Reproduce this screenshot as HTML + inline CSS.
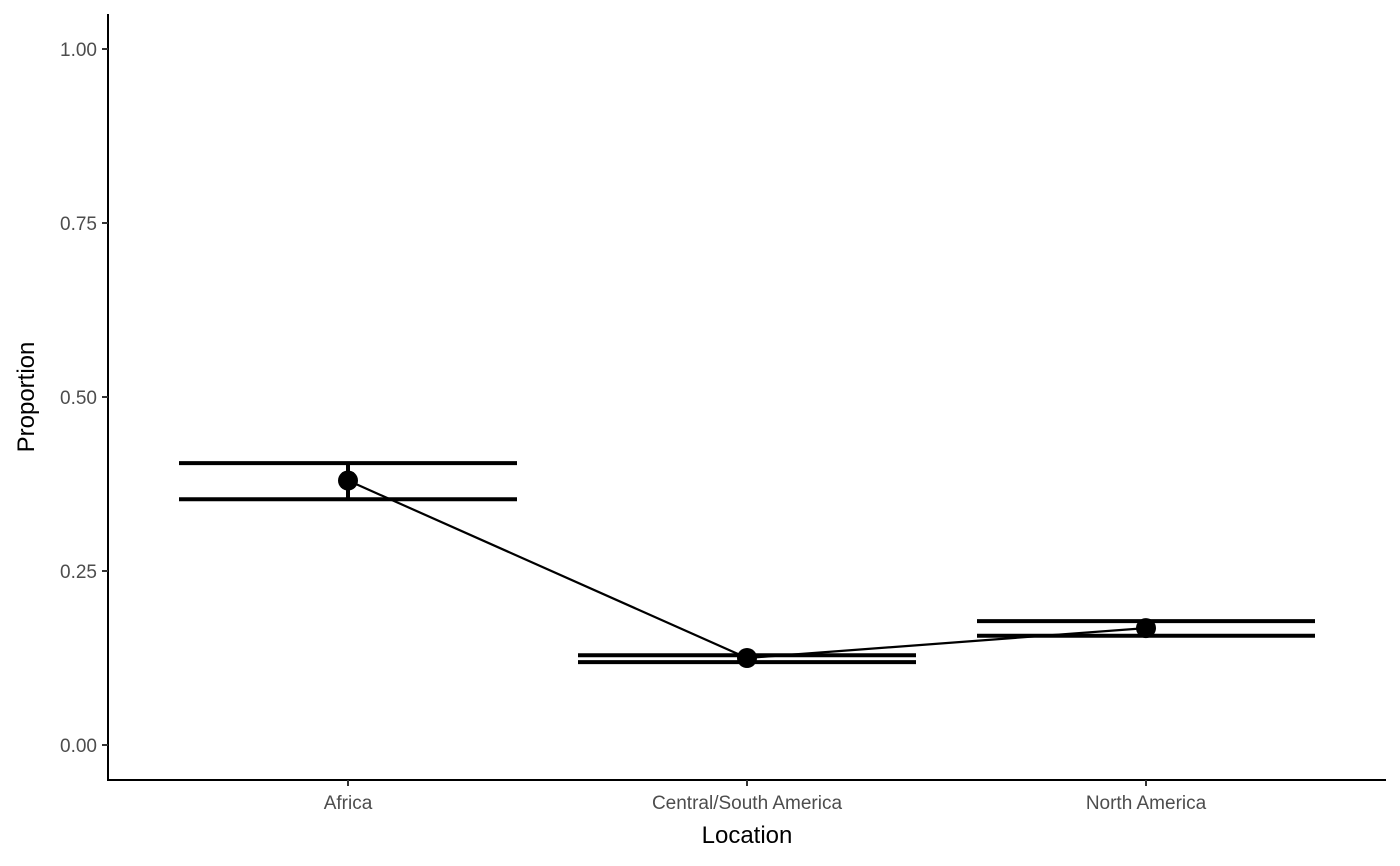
<!DOCTYPE html>
<html><head><meta charset="utf-8"><style>
html,body{margin:0;padding:0;background:#fff;}
svg{display:block;font-family:"Liberation Sans",Arial,sans-serif;}
</style></head><body>
<svg id="chart" width="1400" height="866">
<g id="axes"></g>
<g id="marks"></g>
<text x="747" y="843" text-anchor="middle" font-size="24" fill="#000">Location</text>
<text transform="translate(34,397) rotate(-90)" text-anchor="middle" font-size="24" fill="#000">Proportion</text>
</svg>
<script>
const categories = ["Africa", "Central/South America", "North America"];
const proportions = [0.38, 0.125, 0.168];
const upperCI = [0.405, 0.129, 0.178];
const lowerCI = [0.353, 0.119, 0.157];
const yTicks = [0, 0.25, 0.5, 0.75, 1];
const yTickLabels = ["0.00", "0.25", "0.50", "0.75", "1.00"];

const NS = "http://www.w3.org/2000/svg";
const y = v => 745 - v * 696;
const x = i => 348 + i * 399;
const halfW = 169;
function mk(tag, attrs, parent) {
  const e = document.createElementNS(NS, tag);
  for (const k in attrs) e.setAttribute(k, attrs[k]);
  parent.appendChild(e);
  return e;
}
const axes = document.getElementById('axes');
const marks = document.getElementById('marks');
let l = mk('line', {x1:108, y1:14, x2:108, y2:781, stroke:'#000', 'stroke-width':2}, axes);


l = mk('line', {x1:107, y1:780, x2:1386, y2:780, stroke:'#000', 'stroke-width':2}, axes);


yTicks.forEach((v, i) => {
  const t = mk('line', {x1:102, y1:y(v), x2:108, y2:y(v), stroke:'#333', 'stroke-width':2}, axes);
  
  
  const tx = mk('text', {x:97, y:y(v)+7, 'text-anchor':'end', 'font-size':19, fill:'#4d4d4d'}, axes);
  tx.textContent = yTickLabels[i];
  
  
});
categories.forEach((c, i) => {
  const t = mk('line', {x1:x(i), y1:780, x2:x(i), y2:786, stroke:'#333', 'stroke-width':2}, axes);
  
  
  const tx = mk('text', {x:x(i), y:809, 'text-anchor':'middle', 'font-size':19, fill:'#4d4d4d'}, axes);
  tx.textContent = c;
  
  
});
const pts = proportions.map((p, i) => x(i) + ',' + y(p)).join(' ');
const pl = mk('polyline', {points:pts, fill:'none', stroke:'#000', 'stroke-width':2.2}, marks);


categories.forEach((c, i) => {
  const g = mk('g', {}, marks);
  
  
  mk('line', {x1:x(i)-halfW, x2:x(i)+halfW, y1:y(upperCI[i]), y2:y(upperCI[i]), stroke:'#000', 'stroke-width':4}, g);
  mk('line', {x1:x(i)-halfW, x2:x(i)+halfW, y1:y(lowerCI[i]), y2:y(lowerCI[i]), stroke:'#000', 'stroke-width':4}, g);
  mk('line', {x1:x(i), x2:x(i), y1:y(upperCI[i]), y2:y(lowerCI[i]), stroke:'#000', 'stroke-width':4}, g);
  const p = mk('circle', {cx:x(i), cy:y(proportions[i]), r:10, fill:'#000'}, marks);
  
  
});
</script>
</body></html>
